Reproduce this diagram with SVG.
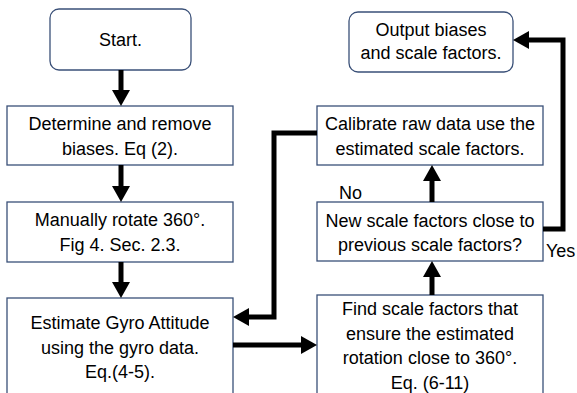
<svg xmlns="http://www.w3.org/2000/svg" width="577" height="393" viewBox="0 0 577 393">
<style>
.box{fill:#fff;stroke:#3A5078;stroke-width:1.3}
.t{font-family:"Liberation Sans",Arial,sans-serif;font-size:18px;fill:#000;text-anchor:middle}
.l{font-family:"Liberation Sans",Arial,sans-serif;font-size:18px;fill:#000}
.c{fill:none;stroke:#000;stroke-width:5}
</style>
<defs>
<marker id="ah" markerUnits="userSpaceOnUse" markerWidth="16" markerHeight="18" refX="0" refY="9" orient="auto" overflow="visible">
<path d="M0,0 L16,9 L0,18 z" fill="#000"/>
</marker>
</defs>
<rect width="577" height="393" fill="#fff"/>
<g id="start">
<rect class="box" x="50" y="9" width="141" height="61" rx="9"/>
<text class="t" x="120.5" y="46">Start.</text>
</g>
<g id="determine">
<rect class="box" x="7" y="106" width="226" height="59"/>
<text class="t" x="120" y="130">Determine and remove</text>
<text class="t" x="120" y="155">biases. Eq (2).</text>
</g>
<g id="manually">
<rect class="box" x="7" y="202" width="226" height="60"/>
<text class="t" x="120" y="226">Manually rotate 360°.</text>
<text class="t" x="120" y="251">Fig 4. Sec. 2.3.</text>
</g>
<g id="estimate">
<rect class="box" x="7" y="298" width="226" height="110"/>
<text class="t" x="120" y="329">Estimate Gyro Attitude</text>
<text class="t" x="120" y="353.5">using the gyro data.</text>
<text class="t" x="120" y="378">Eq.(4-5).</text>
</g>
<g id="find">
<rect class="box" x="317" y="295" width="226" height="110"/>
<text class="t" x="430" y="315">Find scale factors that</text>
<text class="t" x="430" y="340">ensure the estimated</text>
<text class="t" x="430" y="364">rotation close to 360°.</text>
<text class="t" x="430" y="389">Eq. (6-11)</text>
</g>
<g id="newscale">
<rect class="box" x="317" y="202" width="226" height="59"/>
<text class="t" x="430" y="227">New scale factors close to</text>
<text class="t" x="430" y="251">previous scale factors?</text>
</g>
<g id="calibrate">
<rect class="box" x="317" y="106" width="226" height="59"/>
<text class="t" x="430" y="130">Calibrate raw data use the</text>
<text class="t" x="430" y="155">estimated scale factors.</text>
</g>
<g id="output">
<rect class="box" x="349" y="12" width="164" height="60" rx="9"/>
<text class="t" x="431" y="36">Output biases</text>
<text class="t" x="431" y="59">and scale factors.</text>
</g>
<g id="connectors">
<path class="c" d="M121,70 V90" marker-end="url(#ah)"/>
<path class="c" d="M121,165 V186" marker-end="url(#ah)"/>
<path class="c" d="M121,262 V282" marker-end="url(#ah)"/>
<path class="c" d="M233,345 H301" marker-end="url(#ah)"/>
<path class="c" d="M432,295 V277" marker-end="url(#ah)"/>
<path class="c" d="M432,202 V181" marker-end="url(#ah)"/>
<path class="c" d="M317,133 H274 V317 H249" marker-end="url(#ah)"/>
<path class="c" d="M543,229 H563 V40 H529" marker-end="url(#ah)"/>
<text class="l" x="339" y="199">No</text>
<text class="l" x="546" y="257">Yes</text>
</g>
</svg>
